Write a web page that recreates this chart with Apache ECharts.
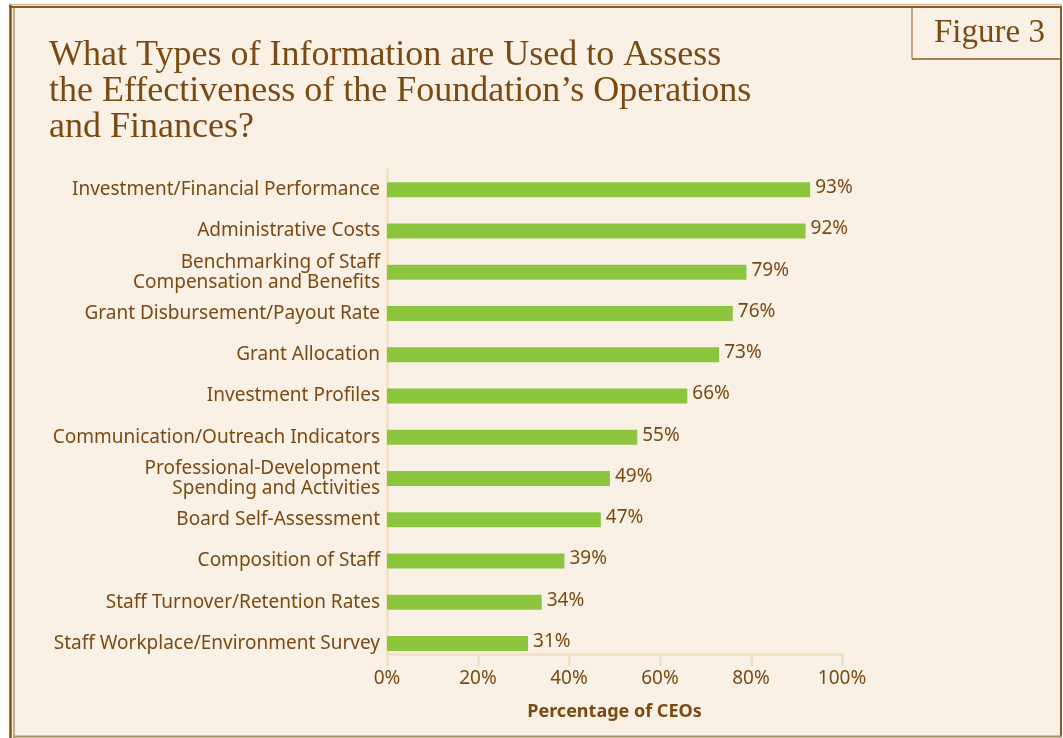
<!DOCTYPE html>
<html>
<head>
<meta charset="utf-8">
<script src="https://cdn.jsdelivr.net/npm/echarts@6/dist/echarts.min.js"></script>
<style>
html,body{margin:0;padding:0;background:#ffffff;}
#chart{width:1063px;height:738px;}
</style>
</head>
<body>
<div id="chart"></div>
<script>
const categories = [
  'Investment/Financial Performance',
  'Administrative Costs',
  'Benchmarking of Staff\nCompensation and Benefits',
  'Grant Disbursement/Payout Rate',
  'Grant Allocation',
  'Investment Profiles',
  'Communication/Outreach Indicators',
  'Professional-Development\nSpending and Activities',
  'Board Self-Assessment',
  'Composition of Staff',
  'Staff Turnover/Retention Rates',
  'Staff Workplace/Environment Survey'
];
const values = [93, 92, 79, 76, 73, 66, 55, 49, 47, 39, 34, 31];
const xTicks = [0, 20, 40, 60, 80, 100];
const titleText = 'What Types of Information are Used to Assess\nthe Effectiveness of the Foundation\u2019s Operations\nand Finances?';
const figureLabel = 'Figure 3';
const axisName = 'Percentage of CEOs';

const BROWN = '#7b4a12';
const CREAM = '#f9f1e6';
const AXIS = '#f2e3c6';
const SANS = '"Noto Sans", "Open Sans", sans-serif';
const SERIF = '"Liberation Serif", "DejaVu Serif", serif';

const chart = echarts.init(document.getElementById('chart'), null, {renderer: 'canvas'});
chart.setOption({
  backgroundColor: '#ffffff',
  animation: false,
  graphic: [
    {type: 'rect', z: -10, shape: {x: 9, y: 5, width: 1053, height: 733}, style: {fill: CREAM}},
    {type: 'line', z: -5, shape: {x1: 9, y1: 4.5, x2: 1062, y2: 4.5}, style: {stroke: '#cdb89c', lineWidth: 1.5}},
    {type: 'line', z: -5, shape: {x1: 9, y1: 7, x2: 1062, y2: 7}, style: {stroke: '#8a5a22', lineWidth: 2}},
    {type: 'line', z: -5, shape: {x1: 10.5, y1: 5, x2: 10.5, y2: 738}, style: {stroke: '#7f4f16', lineWidth: 2.5}},
    {type: 'line', z: -5, shape: {x1: 14, y1: 8, x2: 14, y2: 738}, style: {stroke: '#b8926a', lineWidth: 1.5}},
    {type: 'line', z: -5, shape: {x1: 1061, y1: 7, x2: 1061, y2: 737}, style: {stroke: '#8a5a22', lineWidth: 2}},
    {type: 'line', z: -5, shape: {x1: 14, y1: 736.5, x2: 1062, y2: 736.5}, style: {stroke: '#a88f66', lineWidth: 2}},
    {type: 'line', z: -5, shape: {x1: 912, y1: 8, x2: 912, y2: 59}, style: {stroke: '#b8926a', lineWidth: 1.5}},
    {type: 'line', z: -5, shape: {x1: 912, y1: 59, x2: 1061, y2: 59}, style: {stroke: '#8a5a22', lineWidth: 1.5}},
    {type: 'text', left: 934, top: 17, style: {text: figureLabel, font: '33px ' + SERIF, fill: BROWN, lineHeight: 32}},
    {type: 'text', left: 49, top: 38, style: {text: titleText, font: '36px ' + SERIF, fill: BROWN, lineHeight: 36}}
  ],
  grid: {left: 387, right: 221, top: 169, height: 495, containLabel: false},
  xAxis: {
    type: 'value', min: 0, max: 100, interval: 20, offset: -10,
    axisLine: {show: true, lineStyle: {color: AXIS, width: 3}},
    axisTick: {show: true, length: 12, lineStyle: {color: AXIS, width: 3}},
    splitLine: {show: false},
    axisLabel: {
      margin: 15, color: BROWN, fontFamily: SANS, fontSize: 19,
      formatter: v => (xTicks.indexOf(v) >= 0 ? v + '%' : '')
    },
    name: axisName, nameLocation: 'middle', nameGap: 49,
    nameTextStyle: {color: BROWN, fontFamily: SANS, fontSize: 18, fontWeight: 'bold'}
  },
  yAxis: {
    type: 'category', data: categories, inverse: true,
    axisLine: {show: true, lineStyle: {color: AXIS, width: 3}},
    axisTick: {show: false},
    axisLabel: {margin: 7, color: BROWN, fontFamily: SANS, fontSize: 19, lineHeight: 20, align: 'right'}
  },
  series: [{
    type: 'bar', data: values, barWidth: 15,
    itemStyle: {color: '#8cc63f'},
    label: {show: true, position: 'right', distance: 5, offset: [0, -2], formatter: '{c}%',
      color: BROWN, fontFamily: SANS, fontSize: 19}
  }]
});
</script>
</body>
</html>
